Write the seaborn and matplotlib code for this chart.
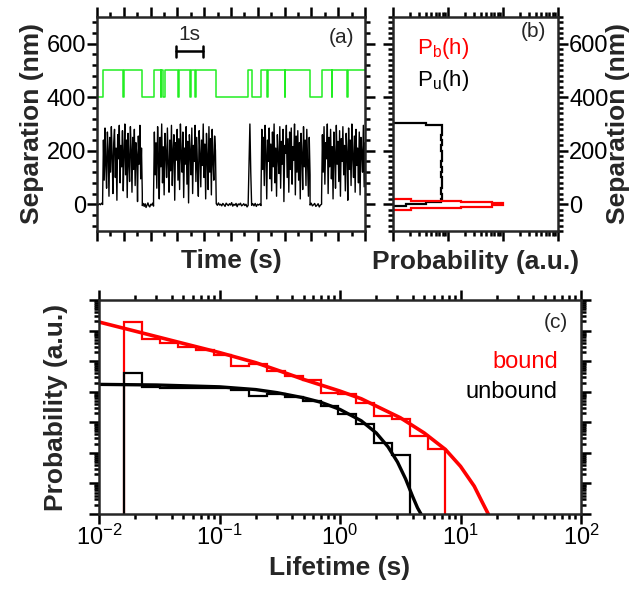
import numpy as np
import matplotlib
matplotlib.use("Agg")
import matplotlib.pyplot as plt
import seaborn as sns
from matplotlib.ticker import MultipleLocator, LogLocator, NullFormatter

# ---------------- data ----------------
# (a) separation trace, per time segment (s) -> sampled values (nm)
trace_segments = [(0.0, 0.21), (0.21, 1.69), (1.69, 2.11), (2.11, 4.45),
                  (4.45, 5.64), (5.64, 5.77), (5.77, 6.12), (6.12, 7.95),
                  (7.95, 8.38), (8.38, 10.0)]
trace_values = [
    [0, -3, 2, -2, 4, -1],
    [20, 240, 90, 285, 150, 60, 270, 200, 30, 250, 120, 290, 180, 40, 230, 280, 100,
     210, 15, 260, 170, 295, 80, 220, 140, 275, 50, 190, 300, 110, 240, 25, 265, 160,
     85, 290, 205, 45, 250, 130, 280, 70, 230, 185, 10, 255, 150, 295, 95, 210, 40],
    [-5, 3, -8, 2, -12, -4, 5, -6, -10, 0, -3, 4, -7],
    [30, 270, 110, 230, 60, 290, 170, 20, 250, 140, 300, 80, 215, 35, 265, 190, 100,
     285, 150, 45, 240, 125, 295, 70, 200, 260, 15, 230, 165, 280, 90, 245, 55, 300,
     180, 120, 270, 25, 210, 150, 290, 75, 235, 5, 260, 195, 110, 285, 40, 220, 160,
     295, 85, 250, 130, 30, 275, 190, 65, 240, 145, 300, 100, 225, 20, 265, 175, 55,
     290, 120, 245, 35, 280, 160, 90, 255, 200, 25],
    [2, -4, 5, -3, 0, -6, 3, -2, -8, 4, -1, -5, 2, -3, 6, -7, 0, -4, 3, -9, 1, -2, 4,
     -6, -3, 2, -5, 0, -10, -4],
    [0, 150, 300, 120, 5],
    [-4, 2, -6, 3, -8, 0, -3, 1, -5],
    [40, 280, 130, 250, 70, 295, 190, 20, 240, 160, 285, 95, 225, 50, 270, 140, 300,
     80, 210, 30, 260, 175, 115, 290, 60, 235, 150, 280, 10, 220, 190, 295, 100, 245,
     45, 270, 130, 285, 75, 215, 165, 300, 35, 255, 120, 275, 90, 230, 20, 265, 185,
     55, 290, 140, 240, 70, 280, 160, 30, 250, 110],
    [-3, 4, -6, -2, 3, -8, -4, 2, -10, -3, 0],
    [25, 260, 120, 290, 75, 230, 170, 300, 40, 250, 140, 280, 95, 215, 20, 270, 185,
     60, 295, 150, 235, 85, 275, 30, 245, 160, 290, 110, 220, 50, 265, 195, 15, 285,
     130, 240, 70, 300, 175, 100, 255, 45, 280, 145, 210, 80, 270, 35, 250, 190, 120,
     295, 65, 230],
]
# (a) idealised state trace (green)
state_times = [0, 0.21, 0.97, 1.0, 1.69, 2.11, 2.37, 2.40, 2.46, 2.54, 3.04, 3.07,
               3.47, 3.50, 3.65, 3.68, 4.45, 5.64, 5.77, 6.12, 6.34, 6.38, 7.00, 7.03,
               7.95, 8.38, 8.75, 8.78, 9.33, 9.36, 10.0]
state_levels = [400, 500, 400, 500, 400, 500, 400, 500, 400, 500, 400, 500, 400, 500,
                400, 500, 400, 500, 400, 500, 400, 500, 400, 500, 400, 500, 400, 500,
                400, 500, 500]

# (b) height histograms (probability, a.u.)
pb_edges = [-21, -15, -9, -4, 3, 7, 12, 18]
pb_values = [0.0021, 0.0175, 0.063, 0.10, 0.063, 0.0175, 0.0021]
pu_edges = [-8, 0, 8, 20, 40, 60, 80, 100, 120, 140, 160, 180, 200, 220, 240, 260,
            280, 296, 302]
pu_values = [0.0017, 0.0040, 0.0075, 0.0078, 0.0074, 0.0077, 0.0079, 0.0076, 0.0078,
             0.0075, 0.0079, 0.0077, 0.0074, 0.0078, 0.0076, 0.0079, 0.0077, 0.0040]

# (c) lifetime histograms (log10 probability)
life_edges = [0.01626, 0.02286, 0.03214, 0.04519, 0.06353, 0.08933, 0.1256, 0.1766,
              0.2483, 0.3491, 0.4909, 0.6902, 0.9705, 1.365, 1.919, 2.698, 3.793,
              5.333, 7.499]
bound_log10p = [-0.72, -1.29, -1.40, -1.54, -1.62, -1.81, -2.16, -2.09, -2.33, -2.49,
                -2.63, -3.03, -3.09, -3.36, -3.78, -3.89, -4.45, -4.87]
unbound_log10p = [-2.40, -2.84, -2.87, -2.89, -2.87, -2.87, -2.93, -3.14, -3.09,
                  -3.17, -3.31, -3.47, -3.74, -4.07, -4.67, -5.08]
bound_fit_t = [0.01, 0.02, 0.05, 0.1, 0.2, 0.3, 0.5, 1, 1.5, 2, 3.16, 5, 7.5, 10, 13,
               15, 17]
bound_fit_log10p = [-0.72, -1.02, -1.42, -1.72, -2.05, -2.29, -2.60, -2.98, -3.23,
                    -3.47, -3.85, -4.35, -4.89, -5.44, -6.09, -6.58, -7.0]
unbound_fit_t = [0.01, 0.03, 0.1, 0.2, 0.3, 0.5, 0.7, 1, 1.5, 2, 2.5, 3, 3.5, 4, 4.4,
                 4.7]
unbound_fit_log10p = [-2.76, -2.78, -2.84, -2.93, -3.03, -3.2, -3.35, -3.58, -3.95,
                      -4.35, -4.8, -5.3, -5.85, -6.42, -6.8, -7.0]

# ---------------- style ----------------
sns.set_style("ticks")
plt.rcParams["font.family"] = ["Liberation Sans", "DejaVu Sans"]
plt.rcParams["mathtext.fontset"] = "custom"
plt.rcParams["mathtext.rm"] = "Liberation Sans"
plt.rcParams["mathtext.it"] = "Liberation Sans"
plt.rcParams["axes.linewidth"] = 1.8

TICK_FS = 17
LABEL_FS = 19

fig = plt.figure(figsize=(6.41, 5.92), dpi=100)
W, H = 641.0, 592.0


def add_axes(x0, x1, ytop, ybot):
    return fig.add_axes([x0 / W, 1 - ybot / H, (x1 - x0) / W, (ybot - ytop) / H])


def style_ticks(ax):
    ax.tick_params(which="both", direction="out", top=True, right=True,
                   left=True, bottom=True, width=1.8, colors="black",
                   labelsize=TICK_FS, pad=1)
    ax.tick_params(which="major", length=7)
    ax.tick_params(which="minor", length=3.8)


# ---------------- (a) ----------------
axa = add_axes(97, 365, 17, 231)
t_all, v_all = [], []
for (t0, t1), vals in zip(trace_segments, trace_values):
    t_all.extend(np.linspace(t0, t1, len(vals)))
    v_all.extend(vals)
sns.lineplot(x=t_all, y=v_all, ax=axa, color="black", lw=1.0, estimator=None,
             sort=False)
sns.lineplot(x=state_times, y=state_levels, ax=axa, color="#22ee22", lw=1.1,
             estimator=None, sort=False, drawstyle="steps-post")
axa.set_xlim(0, 10)
axa.set_ylim(-100, 700)
axa.xaxis.set_major_locator(MultipleLocator(1))
axa.xaxis.set_minor_locator(MultipleLocator(0.5))
axa.yaxis.set_major_locator(MultipleLocator(200))
axa.yaxis.set_minor_locator(MultipleLocator(40))
style_ticks(axa)
axa.tick_params(labelbottom=False)
axa.set_xlabel("Time (s)", fontsize=LABEL_FS, fontweight="bold", labelpad=6)
axa.set_ylabel("Separation (nm)", fontsize=LABEL_FS, fontweight="bold", labelpad=2)
axa.text(0.96, 0.905, "(a)", transform=axa.transAxes, ha="right", va="center",
         fontsize=15)
# 1 s scale bar
axa.plot([2.96, 3.96], [572, 572], color="black", lw=1.8)
axa.plot([2.96, 2.96], [552, 592], color="black", lw=1.8)
axa.plot([3.96, 3.96], [552, 592], color="black", lw=1.8)
axa.text(3.46, 598, "1s", ha="center", va="bottom", fontsize=15)

# ---------------- (b) ----------------
axb = add_axes(393, 558, 17, 231)
axb.stairs(pu_values, pu_edges, orientation="horizontal", baseline=1e-9,
           color="black", lw=1.6)
axb.stairs(pb_values, pb_edges, orientation="horizontal", baseline=1e-9,
           color="red", lw=1.6)
axb.set_xscale("log")
axb.set_xlim(1e-3, 1)
axb.set_ylim(-100, 700)
axb.xaxis.set_major_locator(LogLocator(base=10, numticks=10))
axb.xaxis.set_minor_locator(LogLocator(base=10, subs=np.arange(2, 10), numticks=50))
axb.xaxis.set_major_formatter(NullFormatter())
axb.xaxis.set_minor_formatter(NullFormatter())
axb.yaxis.set_major_locator(MultipleLocator(200))
axb.yaxis.set_minor_locator(MultipleLocator(20))
style_ticks(axb)
axb.tick_params(labelleft=False, labelright=True)
axb.set_xlabel("Probability (a.u.)", fontsize=LABEL_FS, fontweight="bold",
               labelpad=6)
fig.text(618 / W, 1 - 124 / H, "Separation (nm)", rotation=90, ha="center",
         va="center", fontsize=LABEL_FS, fontweight="bold")
axb.text(0.93, 0.93, "(b)", transform=axb.transAxes, ha="right", va="center",
         fontsize=15)
axb.text(0.145, 0.855, r"$\mathregular{P_b(h)}$", transform=axb.transAxes,
         ha="left", va="center", fontsize=16, color="red")
axb.text(0.145, 0.705, r"$\mathregular{P_u(h)}$", transform=axb.transAxes,
         ha="left", va="center", fontsize=16, color="black")

# ---------------- (c) ----------------
axc = add_axes(99, 581, 300, 514)
axc.stairs(10 ** np.array(bound_log10p), life_edges, baseline=1e-12, color="red",
           lw=1.6)
axc.stairs(10 ** np.array(unbound_log10p), life_edges[:len(unbound_log10p) + 1],
           baseline=1e-12, color="black", lw=1.6)
sns.lineplot(x=bound_fit_t, y=10 ** np.array(bound_fit_log10p), ax=axc, color="red",
             lw=2.6, estimator=None, sort=False)
sns.lineplot(x=unbound_fit_t, y=10 ** np.array(unbound_fit_log10p), ax=axc,
             color="black", lw=2.4, estimator=None, sort=False)
axc.set_xscale("log")
axc.set_yscale("log")
axc.set_xlim(1e-2, 1e2)
axc.set_ylim(1e-7, 1e0)
axc.xaxis.set_major_locator(LogLocator(base=10, numticks=10))
axc.xaxis.set_minor_locator(LogLocator(base=10, subs=np.arange(2, 10), numticks=50))
axc.xaxis.set_minor_formatter(NullFormatter())
axc.yaxis.set_major_locator(LogLocator(base=10, numticks=20))
axc.yaxis.set_minor_locator(LogLocator(base=10, subs=np.arange(2, 10), numticks=100))
axc.yaxis.set_major_formatter(NullFormatter())
axc.yaxis.set_minor_formatter(NullFormatter())
style_ticks(axc)
axc.set_xlabel("Lifetime (s)", fontsize=LABEL_FS, fontweight="bold", labelpad=4)
axc.set_ylabel("Probability (a.u.)", fontsize=LABEL_FS, fontweight="bold",
               labelpad=14)
axc.text(0.972, 0.897, "(c)", transform=axc.transAxes, ha="right", va="center",
         fontsize=15)
axc.text(0.952, 0.71, "bound", transform=axc.transAxes, ha="right", va="center",
         fontsize=17, color="red")
axc.text(0.952, 0.57, "unbound", transform=axc.transAxes, ha="right", va="center",
         fontsize=17, color="black")

fig.savefig("out.png", dpi=100)
